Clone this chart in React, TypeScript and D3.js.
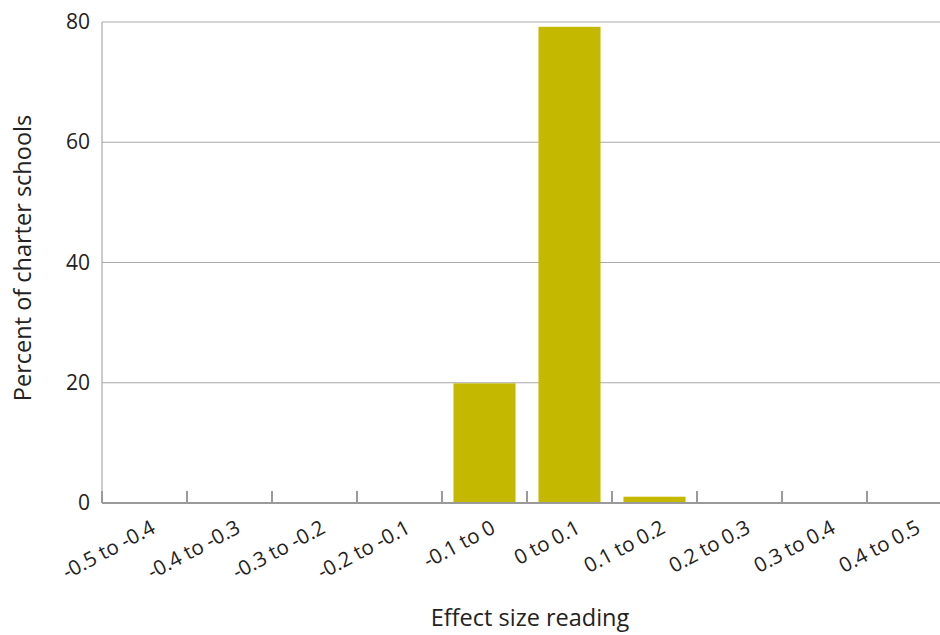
import React from "react";
import * as d3 from "d3";

const categories = [
  "-0.5 to -0.4",
  "-0.4 to -0.3",
  "-0.3 to -0.2",
  "-0.2 to -0.1",
  "-0.1 to 0",
  "0 to 0.1",
  "0.1 to 0.2",
  "0.2 to 0.3",
  "0.3 to 0.4",
  "0.4 to 0.5",
];
const values = [0, 0, 0, 0, 19.9, 79.2, 1.05, 0, 0, 0];
const yTicks = [0, 20, 40, 60, 80];
const xTitle = "Effect size reading";
const yTitle = "Percent of charter schools";

const W = 940;
const H = 635;
const left = 102;
const bandRight = 952;
const top = 22;
const bottom = 503;
const FONT = "'Open Sans', 'DejaVu Sans', sans-serif";

export default function App() {
  const x = d3.scaleBand<string>().domain(categories).range([left, bandRight]).paddingInner(0.27).paddingOuter(0.135);
  const xb = d3.scaleBand<string>().domain(categories).range([left, bandRight]);
  const y = d3.scaleLinear().domain([0, 80]).range([bottom, top]);

  return (
    <svg
      width={W}
      height={H}
      style={{ position: "absolute", left: 0, top: 0, background: "#fff" }}
      fontFamily={FONT}
    >
      {yTicks.filter((t) => t > 0).map((t) => (
        <line key={"g" + t} x1={left} x2={W} y1={y(t)} y2={y(t)} stroke="#a9a9a9" strokeWidth={1.2} />
      ))}
      <line x1={left} x2={left} y1={top} y2={bottom} stroke="#a9a9a9" strokeWidth={1.2} />
      {categories.map((c, i) =>
        values[i] > 0 ? (
          <rect
            key={"b" + c}
            x={x(c)}
            width={x.bandwidth()}
            y={y(values[i])}
            height={bottom - y(values[i])}
            fill="#c4b800"
          />
        ) : null
      )}
      <line x1={left} x2={W} y1={bottom} y2={bottom} stroke="#9a9a9a" strokeWidth={2} />
      {categories.map((c) => (
        <line
          key={"t" + c}
          x1={xb(c)!}
          x2={xb(c)!}
          y1={bottom}
          y2={bottom - 12}
          stroke="#9a9a9a"
          strokeWidth={2}
        />
      ))}
      {yTicks.map((t) => (
        <text key={"yl" + t} x={90} y={y(t) + 7} textAnchor="end" fontSize={21} fill="#222">
          {t}
        </text>
      ))}
      {categories.map((c) => {
        const cx = xb(c)! + xb.bandwidth() / 2 + 12;
        const cy = 532;
        return (
          <text
            key={"xl" + c}
            transform={`translate(${cx},${cy}) rotate(-28)`}
            textAnchor="end"
            fontSize={20.5}
            fill="#222"
          >
            {c}
          </text>
        );
      })}
      <text x={530} y={626} textAnchor="middle" fontSize={23.5} fill="#222">
        {xTitle}
      </text>
      <text
        transform={`translate(31,${258}) rotate(-90)`}
        textAnchor="middle"
        fontSize={23.5}
        fill="#222"
      >
        {yTitle}
      </text>
    </svg>
  );
}
